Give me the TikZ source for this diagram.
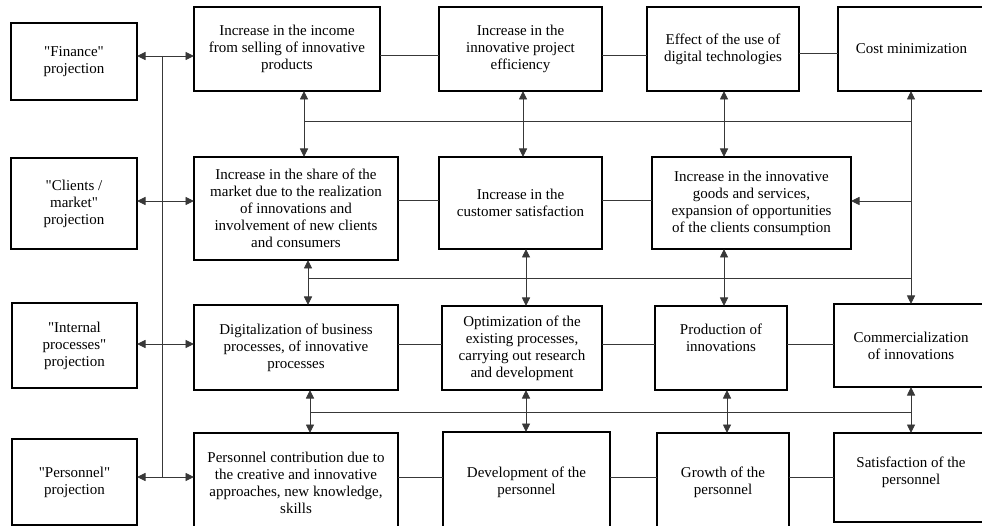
\documentclass[tikz,border=0pt]{standalone}
\usepackage{fontspec}
\setmainfont{Liberation Serif}[Ligatures=TeXOff]
\usetikzlibrary{arrows.meta}
\begin{document}
\begin{tikzpicture}[x=1pt,y=-1pt,
  box/.style={draw=black, line width=1.4pt, align=center, inner sep=0pt, outer sep=0pt,
    font=\fontsize{15}{17}\selectfont, text=black},
  conn/.style={line width=0.9pt, draw=black!78},
  dbl/.style={conn, {Triangle[length=8.5pt,width=8pt]}-{Triangle[length=8.5pt,width=8pt]}},
  sarr/.style={conn, -{Triangle[length=8.5pt,width=8pt]}}]
\useasboundingbox (0,0) rectangle (982,526);
% left projections
\node[box, minimum width=126pt, minimum height=77pt] (fin) at (74,61.5) {"Finance"\\projection};
\node[box, minimum width=126pt, minimum height=91pt] (cli) at (74,203.5) {"Clients /\\market"\\projection};
\node[box, minimum width=125pt, minimum height=85pt] (int) at (74.5,345.5) {"Internal\\processes"\\projection};
\node[box, minimum width=125pt, minimum height=86pt] (per) at (74.5,482) {"Personnel"\\projection};
% row 1
\node[box, minimum width=186pt, minimum height=84pt] (inc) at (287,49) {Increase in the income\\from selling of innovative\\products};
\node[box, minimum width=163pt, minimum height=84pt] (effi) at (520.5,49) {Increase in the\\innovative project\\efficiency};
\node[box, minimum width=152pt, minimum height=84pt] (eff) at (723,49) {Effect of the use of\\digital technologies};
\node[box, minimum width=147pt, minimum height=84pt] (cost) at (911.5,49) {Cost minimization};
% row 2
\node[box, minimum width=204pt, minimum height=103pt] (share) at (296,208.5) {Increase in the share of the\\market due to the realization\\of innovations and\\involvement of new clients\\and consumers};
\node[box, minimum width=163pt, minimum height=92pt] (cust) at (520.5,203) {Increase in the\\customer satisfaction};
\node[box, minimum width=199pt, minimum height=92pt] (cons) at (751.5,203) {Increase in the innovative\\goods and services,\\expansion of opportunities\\of the clients consumption};
% row 3
\node[box, minimum width=204pt, minimum height=85pt] (digi) at (296,347.5) {Digitalization of business\\processes, of innovative\\processes};
\node[box, minimum width=160pt, minimum height=84pt] (opt) at (522,348) {Optimization of the\\existing processes,\\carrying out research\\and development};
\node[box, minimum width=132pt, minimum height=84pt] (prod) at (721,348) {Production of\\innovations\\[3pt]\mbox{}};
\node[box, minimum width=154pt, minimum height=83pt] (comm) at (911,345.5) {Commercialization\\of innovations};
% row 4
\node[box, minimum width=204pt, minimum height=99pt] (contr) at (296,482.5) {Personnel contribution due to\\the creative and innovative\\approaches, new knowledge,\\skills};
\node[box, minimum width=167pt, minimum height=100pt] (dev) at (526.5,482) {Development of the\\personnel};
\node[box, minimum width=132pt, minimum height=99pt] (grow) at (723,482.5) {Growth of the\\personnel};
\node[box, minimum width=154pt, minimum height=89pt] (satp) at (911,477.5) {Satisfaction of the\\personnel\\[-3pt]\mbox{}};
% coordinates
\coordinate (L1) at (162,56);
\coordinate (L2) at (162,201);
\coordinate (L3) at (162,344);
\coordinate (L4) at (162,477);
\coordinate (h1a) at (304,121);
\coordinate (h1b) at (911,121);
\coordinate (h2a) at (308,278);
\coordinate (h2b) at (911,278);
\coordinate (h3a) at (310,412);
\coordinate (h3b) at (911,412);
\coordinate (b1) at (523,0);
\coordinate (b2) at (526,0);
\coordinate (c1) at (724,0);
\coordinate (c3) at (727,0);
\coordinate (r1) at (0,55);
\coordinate (r1b) at (0,53);
\coordinate (r2) at (0,200);
\coordinate (r3) at (0,344);
\coordinate (r4) at (0,477.5);
% left bus
\draw[conn] (L1) -- (L4);
\draw[dbl] (fin.east |- L1) -- (inc.west |- L1);
\draw[dbl] (cli.east |- L2) -- (share.west |- L2);
\draw[dbl] (int.east |- L3) -- (digi.west |- L3);
\draw[dbl] (per.east |- L4) -- (contr.west |- L4);
% row lines
\draw[conn] (inc.east |- r1) -- (effi.west |- r1);
\draw[conn] (effi.east |- r1) -- (eff.west |- r1);
\draw[conn] (eff.east |- r1b) -- (cost.west |- r1b);
\draw[conn] (share.east |- r2) -- (cust.west |- r2);
\draw[conn] (cust.east |- r2) -- (cons.west |- r2);
\draw[conn] (digi.east |- r3) -- (opt.west |- r3);
\draw[conn] (opt.east |- r3) -- (prod.west |- r3);
\draw[conn] (prod.east |- r3) -- (comm.west |- r3);
\draw[conn] (contr.east |- r4) -- (dev.west |- r4);
\draw[conn] (dev.east |- r4) -- (grow.west |- r4);
\draw[conn] (grow.east |- r4) -- (satp.west |- r4);
% buses between rows
\draw[conn] (h1a) -- (h1b);
\draw[conn] (h2a) -- (h2b);
\draw[conn] (h3a) -- (h3b);
\draw[dbl] (inc.south -| h1a) -- (share.north -| h1a);
\draw[dbl] (effi.south -| b1) -- (cust.north -| b1);
\draw[dbl] (eff.south -| c1) -- (cons.north -| c1);
\draw[dbl] (cost.south -| h1b) -- (comm.north -| h1b);
\draw[sarr] (h1b |- L2) -- (cons.east |- L2);
\draw[dbl] (share.south -| h2a) -- (digi.north -| h2a);
\draw[dbl] (cust.south -| b2) -- (opt.north -| b2);
\draw[dbl] (cons.south -| c1) -- (prod.north -| c1);
\draw[dbl] (digi.south -| h3a) -- (contr.north -| h3a);
\draw[dbl] (opt.south -| b2) -- (dev.north -| b2);
\draw[dbl] (prod.south -| c3) -- (grow.north -| c3);
\draw[dbl] (comm.south -| h3b) -- (satp.north -| h3b);
\end{tikzpicture}
\end{document}
